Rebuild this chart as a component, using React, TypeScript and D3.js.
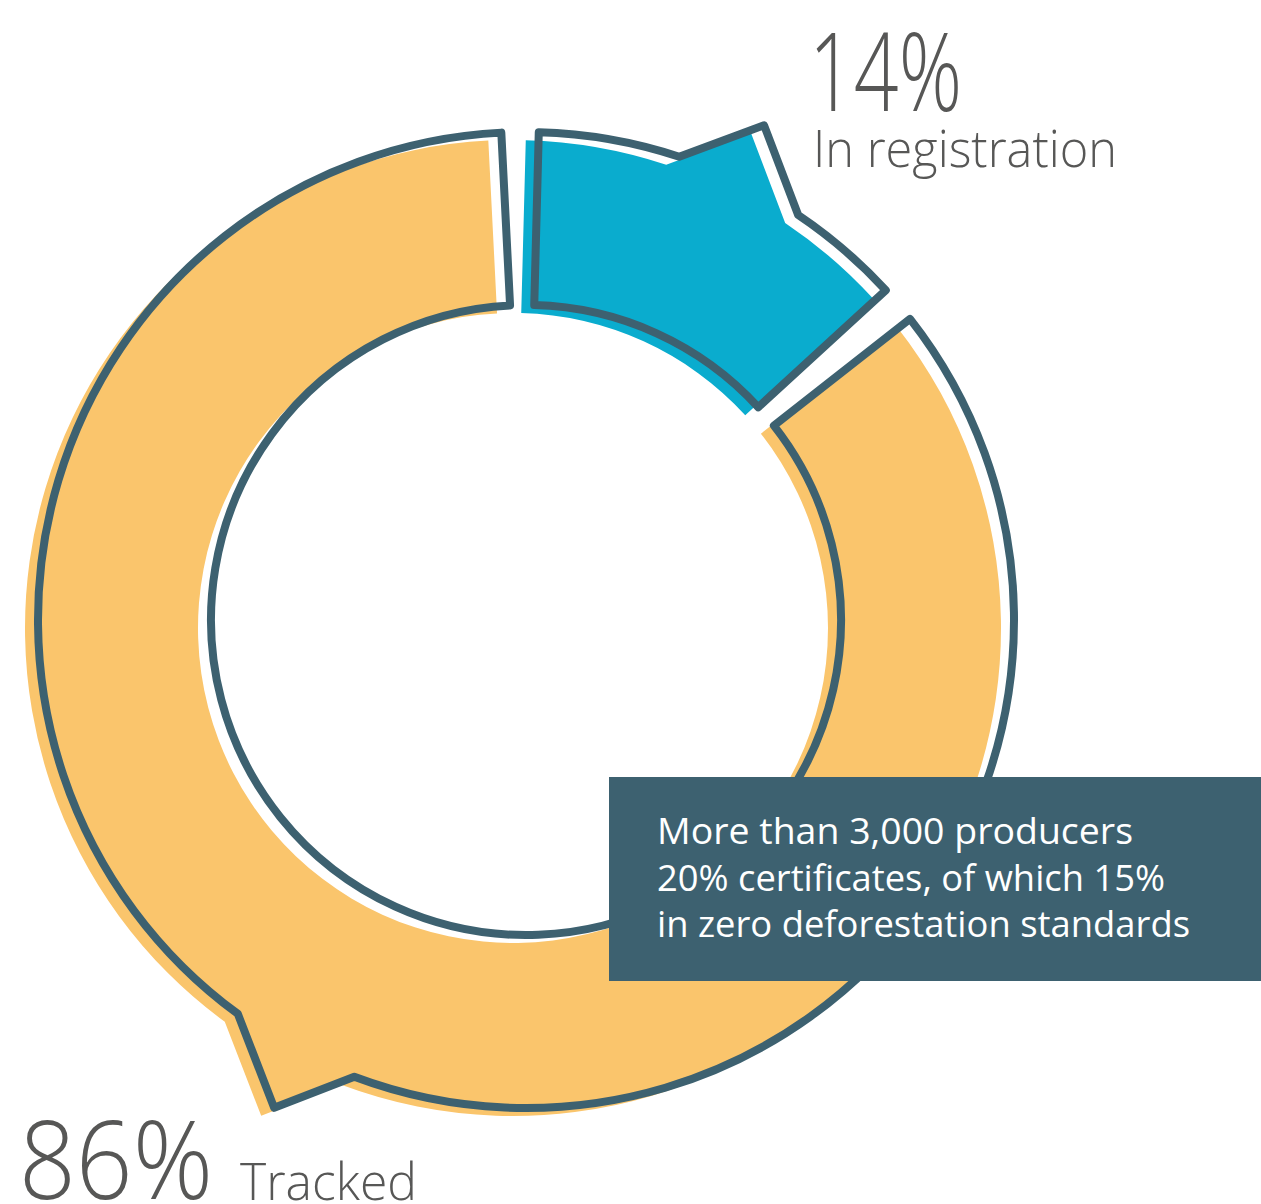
import React from "react";
import * as d3 from "d3";

// ---- data ----
const categories = ["In registration", "Tracked"];
const values = [14, 86];
const percentLabels = ["14%", "86%"];
const noteLines = [
  "More than 3,000 producers",
  "20% certificates, of which 15%",
  "in zero deforestation standards",
];

// ---- layout / style ----
const W = 1261;
const H = 1204;
const deg = Math.PI / 180;
const R_OUT = 488;
const R_IN = 315;
const R_TIP = 549;
const PAD = 2.2 * deg;
const ROT = -0.7 * deg;
const TAB_HALF = 7.8 * deg;
const TAB_SHIFT = [1.6 * deg, 3.9 * deg];
const TIP_SHIFT = [-0.4 * deg, -1.1 * deg];
const OUTLINE_C: [number, number] = [526, 620];
const FILL_C: [number, number] = [513, 628];
const fills = ["#0AACCE", "#FAC56C"];
const INK = "#3D6170";
const TEXT_GRAY = "#575756";
const FONT = "'Open Sans', Lato, sans-serif";

function segPath(a0: number, a1: number, shift: number, tipShift: number): string {
  const s = a0 + PAD;
  const e = a1 - PAD;
  const m = (a0 + a1) / 2 + shift;
  const b0 = m - TAB_HALF;
  const b1 = m + TAB_HALF;
  const pt = (r: number, a: number): [number, number] => [r * Math.sin(a), -r * Math.cos(a)];
  const h = Math.PI / 2;
  const p = d3.path();
  p.moveTo(...pt(R_OUT, s));
  p.arc(0, 0, R_OUT, s - h, b0 - h);
  p.lineTo(...pt(R_TIP, m + tipShift));
  p.lineTo(...pt(R_OUT, b1));
  p.arc(0, 0, R_OUT, b1 - h, e - h);
  p.lineTo(...pt(R_IN, e));
  p.arc(0, 0, R_IN, e - h, s - h, true);
  p.closePath();
  return p.toString();
}

export default function App() {
  const pie = d3
    .pie<number>()
    .sort(null)
    .value((d) => d)
    .startAngle(ROT)
    .endAngle(ROT + 2 * Math.PI);
  const arcs = pie(values);
  const paths = arcs.map((a, i) =>
    segPath(a.startAngle, a.endAngle, TAB_SHIFT[i], TIP_SHIFT[i])
  );

  return (
    <svg
      width={W}
      height={H}
      viewBox={`0 0 ${W} ${H}`}
      style={{ position: "absolute", left: 0, top: 0, background: "#fff" }}
    >
      <g transform={`translate(${FILL_C[0]},${FILL_C[1]})`}>
        {paths.map((d, i) => (
          <path key={"f" + categories[i]} d={d} fill={fills[i]} />
        ))}
      </g>
      <g transform={`translate(${OUTLINE_C[0]},${OUTLINE_C[1]})`}>
        {paths.map((d, i) => (
          <path
            key={"o" + categories[i]}
            d={d}
            fill="none"
            stroke={INK}
            strokeWidth={8}
            strokeLinejoin="round"
          />
        ))}
      </g>

      {/* labels */}
      <g fill={TEXT_GRAY} fontFamily={FONT} fontWeight={300}>
        <text x={809} y={111} fontSize={108} textLength={153} lengthAdjust="spacingAndGlyphs">
          {percentLabels[0]}
        </text>
        <text x={813} y={167} fontSize={51} textLength={304} lengthAdjust="spacingAndGlyphs">
          {categories[0]}
        </text>
        <text x={19} y={1199} fontSize={108} textLength={194} lengthAdjust="spacingAndGlyphs">
          {percentLabels[1]}
        </text>
        <text x={240} y={1200} fontSize={51} textLength={177} lengthAdjust="spacingAndGlyphs">
          {categories[1]}
        </text>
      </g>

      {/* note box */}
      <rect x={609} y={777} width={W - 609} height={204} fill={INK} />
      <g fill="#fff" fontFamily={FONT} fontWeight={500} fontSize={36}>
        {noteLines.map((t, i) => (
          <text
            key={t}
            x={657}
            y={844 + i * 46.5}
            textLength={[476, 508, 533][i]}
            lengthAdjust="spacingAndGlyphs"
          >
            {t}
          </text>
        ))}
      </g>
    </svg>
  );
}
